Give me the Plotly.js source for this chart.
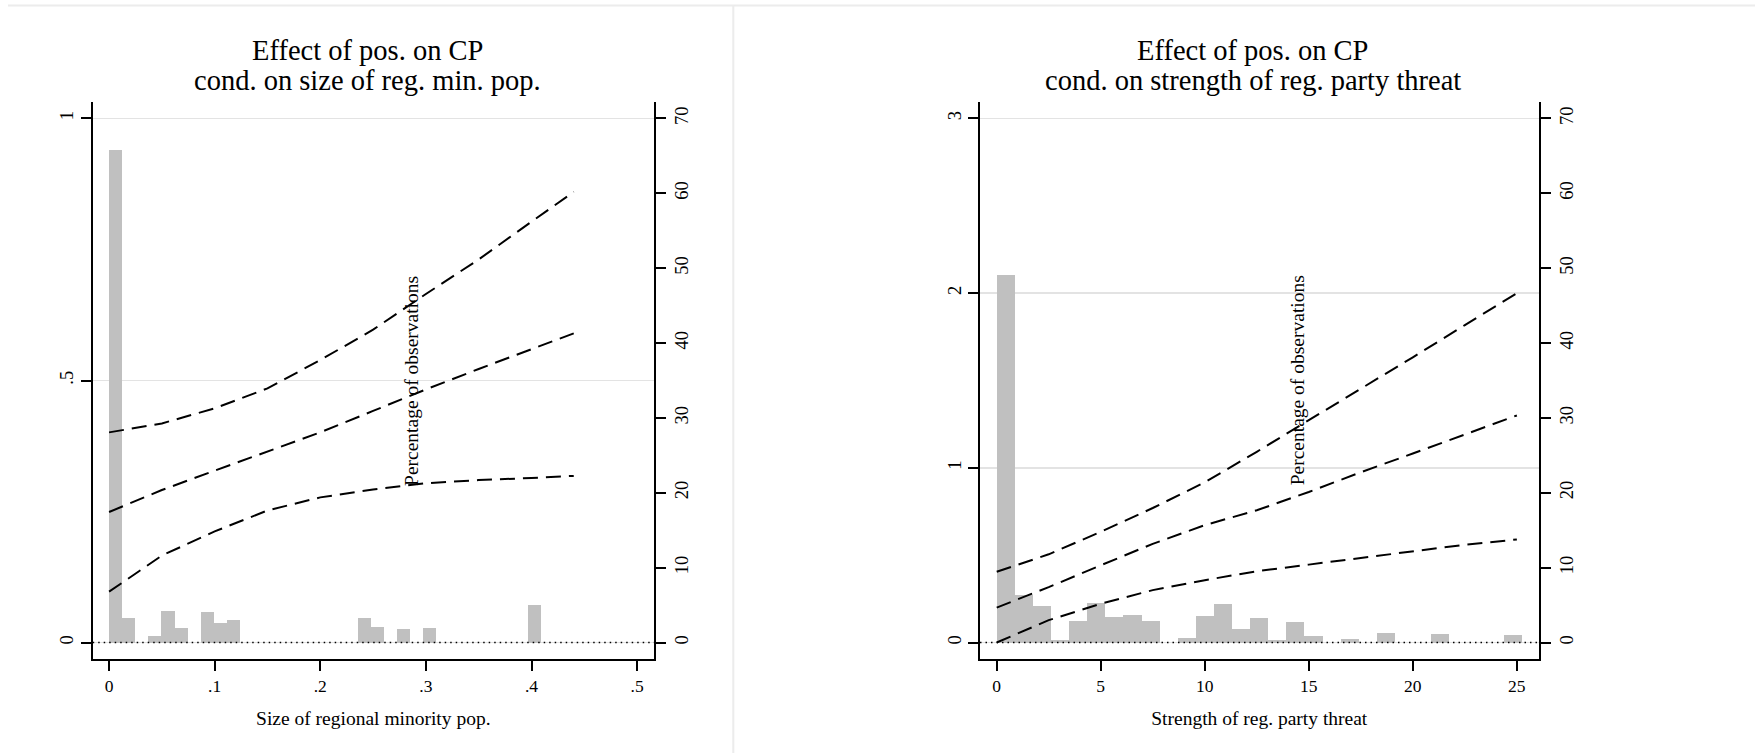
<!DOCTYPE html>
<html>
<head>
<meta charset="utf-8">
<script src="https://cdn.plot.ly/plotly-3.0.1.min.js"></script>
<style>
  html, body { margin: 0; padding: 0; background: #ffffff; }
  #chart { width: 1755px; height: 753px; }
</style>
</head>
<body>
<div id="chart"></div>
<script>
// ---------- DATA ----------
// Left panel: size of regional minority population
const leftBinMid = [0.0062, 0.0186, 0.0434, 0.0558, 0.0682, 0.0930, 0.1054, 0.1178, 0.2418, 0.2542, 0.2790, 0.3038, 0.4030];
const leftBinWidth = 0.0124;
const leftPct = [65.8, 3.26, 0.9, 4.25, 2.0, 4.03, 2.55, 3.0, 3.26, 2.1, 1.79, 1.93, 5.02];
const leftX = [0, 0.05, 0.10, 0.15, 0.20, 0.25, 0.30, 0.35, 0.40, 0.44];
const leftUpper = [0.401, 0.418, 0.447, 0.485, 0.539, 0.597, 0.665, 0.731, 0.803, 0.860];
const leftEst = [0.249, 0.291, 0.328, 0.364, 0.401, 0.442, 0.483, 0.522, 0.559, 0.590];
const leftLower = [0.097, 0.166, 0.212, 0.252, 0.277, 0.292, 0.304, 0.310, 0.314, 0.318];
const leftXTicks = [0, 0.1, 0.2, 0.3, 0.4, 0.5];
const leftXTickText = ['0', '.1', '.2', '.3', '.4', '.5'];
const leftYTicks = [0, 0.5, 1];
const leftYTickText = ['0', '.5', '1'];

// Right panel: strength of regional party threat
const rightBinMid = [0.435, 1.305, 2.175, 3.045, 3.915, 4.785, 5.655, 6.525, 7.395, 9.135, 10.005, 10.875, 11.745, 12.615, 13.485, 14.355, 15.225, 16.965, 18.705, 21.315, 24.795];
const rightBinWidth = 0.87;
const rightPct = [49.1, 6.33, 4.9, 0.37, 2.88, 5.28, 3.45, 3.74, 2.88, 0.61, 3.6, 5.13, 1.77, 3.3, 0.37, 2.79, 0.81, 0.48, 1.29, 1.09, 0.96];
const rightX = [0, 2.5, 5, 7.5, 10, 12.5, 15, 17.5, 20, 22.5, 25];
const rightUpper = [0.405, 0.505, 0.634, 0.770, 0.917, 1.092, 1.273, 1.452, 1.633, 1.817, 2.000];
const rightEst = [0.200, 0.317, 0.442, 0.565, 0.672, 0.757, 0.862, 0.975, 1.082, 1.190, 1.300];
const rightLower = [0.000, 0.128, 0.222, 0.300, 0.357, 0.408, 0.446, 0.483, 0.524, 0.560, 0.590];
const rightXTicks = [0, 5, 10, 15, 20, 25];
const rightYTicks = [0, 1, 2, 3];

const pctTicks = [0, 10, 20, 30, 40, 50, 60, 70];

const titleLine1 = 'Effect of pos. on CP';
const leftTitleLine2 = 'cond. on size of reg. min. pop.';
const rightTitleLine2 = 'cond. on strength of reg. party threat';
const leftXTitle = 'Size of regional minority pop.';
const rightXTitle = 'Strength of reg. party threat';
const pctTitle = 'Percentage of observations';

// ---------- LAYOUT HELPERS ----------
const W = 1755, H = 753;
const FONT = 'Liberation Serif, Times New Roman, Times, serif';
const px = v => v / W;
const py = v => 1 - v / H;
const yDom = [py(659.3), py(101.7)];

const barColor = '#c0c0c0';
const dashLine = { color: '#000000', width: 2, dash: '15px,8px' };

function lineTrace(x, y, xa, ya) {
  return { type: 'scatter', mode: 'lines', x: x, y: y, xaxis: xa, yaxis: ya,
           line: dashLine, hoverinfo: 'skip', showlegend: false };
}
function barTrace(x, y, w, xa, ya) {
  return { type: 'bar', x: x, y: y, width: w, xaxis: xa, yaxis: ya,
           marker: { color: barColor, line: { width: 0 } }, hoverinfo: 'skip', showlegend: false };
}

const traces = [
  barTrace(leftBinMid, leftPct, leftBinWidth, 'x', 'y'),
  lineTrace(leftX, leftUpper, 'x', 'y2'),
  lineTrace(leftX, leftEst, 'x', 'y2'),
  lineTrace(leftX, leftLower, 'x', 'y2'),
  barTrace(rightBinMid, rightPct, rightBinWidth, 'x2', 'y3'),
  lineTrace(rightX, rightUpper, 'x2', 'y4'),
  lineTrace(rightX, rightEst, 'x2', 'y4'),
  lineTrace(rightX, rightLower, 'x2', 'y4')
];

const axisCommon = {
  showline: true, linecolor: '#000000', linewidth: 2,
  ticks: 'outside', ticklen: 10, tickwidth: 2, tickcolor: '#000000',
  tickfont: { family: FONT, size: 17.5, color: '#000000' },
  zeroline: false, fixedrange: true
};
const yTickFont = { family: FONT, size: 18.5, color: '#000000' };

function xAxis(domain, range, tickvals, ticktext, anchor, title) {
  return Object.assign({}, axisCommon, {
    domain: domain, range: range, anchor: anchor,
    tickmode: 'array', tickvals: tickvals, ticktext: ticktext,
    showgrid: false,
    title: { text: title, font: { family: FONT, size: 19.5, color: '#000000' }, standoff: 16 }
  });
}
function pctAxis(anchor) {
  return Object.assign({}, axisCommon, {
    domain: yDom, range: [-2.24, 72.24], side: 'right', anchor: anchor,
    tickmode: 'array', tickvals: pctTicks, tickangle: -90, showgrid: false,
    tickfont: yTickFont
  });
}
function effAxis(overlay, anchor, range, tickvals, ticktext) {
  return Object.assign({}, axisCommon, {
    overlaying: overlay, side: 'left', anchor: anchor, range: range,
    tickmode: 'array', tickvals: tickvals, ticktext: ticktext, tickangle: -90,
    showgrid: true, gridcolor: '#e3e3e3', gridwidth: 1.5,
    tickfont: yTickFont
  });
}

const titleFont = { family: FONT, size: 28.5, color: '#000000' };
const layout = {
  width: W, height: H,
  margin: { l: 0, r: 0, t: 0, b: 0, pad: 0 },
  paper_bgcolor: '#ffffff', plot_bgcolor: 'rgba(0,0,0,0)',
  showlegend: false, hovermode: false,
  font: { family: FONT, color: '#000000' },
  bargap: 0,
  xaxis: xAxis([px(92.7), px(653.9)], [-0.0155, 0.5159], leftXTicks, leftXTickText, 'y', leftXTitle),
  yaxis: pctAxis('x'),
  yaxis2: effAxis('y', 'x', [-0.032, 1.032], leftYTicks, leftYTickText),
  xaxis2: xAxis([px(980), px(1538.5)], [-0.803, 26.04], rightXTicks, rightXTicks.map(String), 'y3', rightXTitle),
  yaxis3: pctAxis('x2'),
  yaxis4: effAxis('y3', 'x2', [-0.096, 3.096], rightYTicks, rightYTicks.map(String)),
  shapes: [
    { type: 'line', xref: 'x domain', x0: 0, x1: 1, yref: 'y2', y0: 0, y1: 0,
      line: { color: '#000000', width: 1.5, dash: '1.5px,4px' }, layer: 'above' },
    { type: 'line', xref: 'x2 domain', x0: 0, x1: 1, yref: 'y4', y0: 0, y1: 0,
      line: { color: '#000000', width: 1.5, dash: '1.5px,4px' }, layer: 'above' },
    // frames of the two graph images
    { type: 'line', xref: 'paper', yref: 'paper', x0: px(8), x1: 1, y0: py(5.5), y1: py(5.5),
      line: { color: '#ececec', width: 2 } },
    { type: 'line', xref: 'paper', yref: 'paper', x0: px(733.3), x1: px(733.3), y0: py(5.5), y1: 0,
      line: { color: '#ececec', width: 2 } }
  ],
  annotations: [
    { xref: 'paper', yref: 'paper', x: px(367.5), y: py(51), xanchor: 'center', yanchor: 'middle',
      text: titleLine1, showarrow: false, font: titleFont },
    { xref: 'paper', yref: 'paper', x: px(367.5), y: py(80.4), xanchor: 'center', yanchor: 'middle',
      text: leftTitleLine2, showarrow: false, font: titleFont },
    { xref: 'paper', yref: 'paper', x: px(1252.5), y: py(51), xanchor: 'center', yanchor: 'middle',
      text: titleLine1, showarrow: false, font: titleFont },
    { xref: 'paper', yref: 'paper', x: px(1252.5), y: py(80.4), xanchor: 'center', yanchor: 'middle',
      text: rightTitleLine2, showarrow: false, font: titleFont },
    { xref: 'x domain', yref: 'y domain', x: 0.568, y: 0.5, xanchor: 'center', yanchor: 'middle',
      text: pctTitle, textangle: -90, showarrow: false, font: { family: FONT, size: 19.5, color: '#000000' } },
    { xref: 'x2 domain', yref: 'y3 domain', x: 0.569, y: 0.5, xanchor: 'center', yanchor: 'middle',
      text: pctTitle, textangle: -90, showarrow: false, font: { family: FONT, size: 19.5, color: '#000000' } }
  ]
};

Plotly.newPlot('chart', traces, layout, { staticPlot: true, displayModeBar: false });
</script>
</body>
</html>
